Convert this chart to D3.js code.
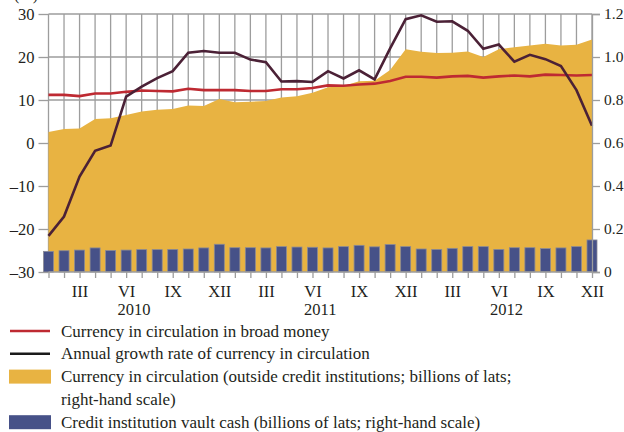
<!DOCTYPE html>
<html>
<head>
<meta charset="utf-8">
<script src="https://cdn.jsdelivr.net/npm/d3@7"></script>
<style>
  body { margin: 0; background: #fff; }
  svg text { font-family: "Liberation Serif", "Times New Roman", serif; fill: #231f20; }
</style>
</head>
<body>
<div id="chart"></div>
<script>
// months I 2010 .. XII 2012
var months = ["I","II","III","IV","V","VI","VII","VIII","IX","X","XI","XII"];
var years = ["2010", "2011", "2012"];
var monthLabels = ["III", "VI", "IX", "XII"];

// currency in circulation in broad money (%)
var shareBroad = [11.2, 11.2, 10.9, 11.5, 11.5, 11.9, 12.2, 12.1, 12.0, 12.6, 12.3, 12.3,
                  12.3, 12.1, 12.1, 12.5, 12.5, 12.8, 13.4, 13.3, 13.6, 13.8, 14.4, 15.4,
                  15.4, 15.2, 15.5, 15.6, 15.2, 15.5, 15.7, 15.5, 15.9, 15.8, 15.7, 15.8];

// annual growth rate of currency in circulation (%)
var growth = [-21.6, -17.1, -7.8, -1.8, -0.6, 10.8, 13.1, 15.1, 16.7, 21.0, 21.4, 21.0,
              21.0, 19.4, 18.8, 14.3, 14.4, 14.2, 16.7, 15.0, 16.9, 14.8, 22.0, 28.8,
              29.7, 28.2, 28.3, 26.1, 21.9, 22.9, 18.9, 20.5, 19.5, 17.9, 12.3, 4.0];

// currency in circulation outside credit institutions (billions of lats)
var currency = [0.651, 0.665, 0.668, 0.712, 0.715, 0.730, 0.746, 0.755, 0.758, 0.774, 0.772, 0.805,
                0.789, 0.792, 0.795, 0.812, 0.817, 0.834, 0.859, 0.865, 0.887, 0.890, 0.940, 1.036,
                1.025, 1.019, 1.020, 1.026, 1.000, 1.036, 1.045, 1.053, 1.062, 1.053, 1.057, 1.081];

// credit institution vault cash (billions of lats)
var vaultCash = [0.096, 0.099, 0.102, 0.112, 0.100, 0.102, 0.104, 0.104, 0.105, 0.107, 0.112, 0.129,
                 0.113, 0.113, 0.112, 0.118, 0.116, 0.115, 0.112, 0.118, 0.124, 0.117, 0.128, 0.118,
                 0.107, 0.105, 0.110, 0.118, 0.118, 0.105, 0.113, 0.113, 0.109, 0.112, 0.118, 0.149];

var legendItems = [
  {type: "line", color: "#be2a32", text: ["Currency in circulation in broad money"]},
  {type: "line", color: "#1a1a1a", text: ["Annual growth rate of currency in circulation"]},
  {type: "rect", color: "#e8b342", text: ["Currency in circulation (outside credit institutions; billions of lats;", "right-hand scale)"]},
  {type: "rect", color: "#465188", text: ["Credit institution vault cash (billions of lats; right-hand scale)"]}
];

var data = currency.map(function (d, i) {
  return {i: i, month: months[i % 12], year: years[Math.floor(i / 12)],
          share: shareBroad[i], growth: growth[i], currency: d, vault: vaultCash[i]};
});

var width = 624, height = 432;
var plotLeft = 48.5, plotRight = 592, plotTop = 14, plotBottom = 272;

var svg = d3.select("#chart")
  .append("svg")
    .attr("width", width)
    .attr("height", height);

var x = d3.scaleLinear()
  .domain([0, data.length - 1])
  .range([plotLeft, plotRight]);

var yL = d3.scaleLinear()
  .domain([-30, 30])
  .range([plotBottom, plotTop]);

var yR = d3.scaleLinear()
  .domain([0, 1.2])
  .range([plotBottom, plotTop]);

// grid
var grid = svg.append("g").attr("stroke", "#9d9d9d").attr("stroke-width", 1.3);
grid.selectAll("line.v")
  .data(data)
  .enter().append("line")
    .attr("x1", function (d) { return x(d.i); })
    .attr("x2", function (d) { return x(d.i); })
    .attr("y1", plotTop)
    .attr("y2", plotBottom);
grid.selectAll("line.h")
  .data(d3.range(-20, 31, 10))
  .enter().append("line")
    .attr("x1", plotLeft)
    .attr("x2", plotRight)
    .attr("y1", function (d) { return yL(d); })
    .attr("y2", function (d) { return yL(d); });

// yellow area
svg.append("path")
  .datum(data)
  .attr("fill", "#e8b342")
  .attr("d", d3.area()
    .x(function (d) { return x(d.i); })
    .y0(yR(0))
    .y1(function (d) { return yR(d.currency); }));

// vault cash bars
svg.append("g")
  .selectAll("rect")
  .data(data)
  .enter().append("rect")
    .attr("x", function (d) { return x(d.i) - 5; })
    .attr("width", 10)
    .attr("y", function (d) { return yR(d.vault); })
    .attr("height", function (d) { return yR(0) - yR(d.vault); })
    .attr("fill", "#465188")
    .attr("stroke", "#8a8a96")
    .attr("stroke-width", 0.8);

// lines
svg.append("path")
  .datum(data)
  .attr("fill", "none")
  .attr("stroke", "#be2a32")
  .attr("stroke-width", 2.6)
  .attr("d", d3.line()
    .x(function (d) { return x(d.i); })
    .y(function (d) { return yL(d.share); }));

svg.append("path")
  .datum(data)
  .attr("fill", "none")
  .attr("stroke", "#4b2136")
  .attr("stroke-width", 2.6)
  .attr("d", d3.line()
    .x(function (d) { return x(d.i); })
    .y(function (d) { return yL(d.growth); }));

// axes
var axisL = svg.append("g")
  .attr("transform", "translate(" + plotLeft + ",0)")
  .call(d3.axisLeft(yL).tickValues(d3.range(-30, 31, 10)).tickSize(10).tickPadding(4)
    .tickFormat(function (d) { return d < 0 ? "\u2013" + (-d) : d; }));

var axisR = svg.append("g")
  .attr("transform", "translate(" + plotRight + ",0)")
  .call(d3.axisRight(yR).tickValues([0, 0.2, 0.4, 0.6, 0.8, 1.0, 1.2]).tickSize(8).tickPadding(4)
    .tickFormat(function (d) { return d === 0 ? "0" : d.toFixed(1); }));

var axisB = svg.append("g")
  .attr("transform", "translate(0," + plotBottom + ")")
  .call(d3.axisBottom(x).tickValues(d3.range(data.length)).tickSize(6).tickPadding(7)
    .tickFormat(function (i) { var m = months[i % 12]; return monthLabels.indexOf(m) >= 0 ? m : ""; }));

[axisL, axisR, axisB].forEach(function (a) {
  a.select(".domain").attr("stroke", "#9d9d9d").attr("stroke-width", 1.3);
  a.selectAll(".tick line").attr("stroke", "#9d9d9d").attr("stroke-width", 1.3);
  a.selectAll("text").style("font-size", "16.5px").attr("fill", "#231f20");
});
axisR.selectAll("text").style("font-size", "15.5px");
axisL.select(".domain").remove();
axisB.select(".domain").attr("d", "M" + plotLeft + ",0H" + plotRight);

// year labels, centred between VI and VII
svg.append("g")
  .selectAll("text")
  .data(years)
  .enter().append("text")
    .attr("x", function (d, k) { return (x(k * 12 + 5) + x(k * 12 + 6)) / 2; })
    .attr("y", 315)
    .attr("text-anchor", "middle")
    .style("font-size", "16.5px")
    .text(function (d) { return d; });

// unit label, mostly cut off at the top as in the original
svg.append("text")
  .attr("x", 14)
  .attr("y", -0.5)
  .style("font-size", "16px")
  .text("(%)");

// legend
var lg = svg.append("g");
var rowY = 331;
legendItems.forEach(function (item) {
  if (item.type === "line") {
    lg.append("line")
      .attr("x1", 10).attr("x2", 50)
      .attr("y1", rowY).attr("y2", rowY)
      .attr("stroke", item.color).attr("stroke-width", 2.6);
  } else {
    lg.append("rect")
      .attr("x", 9).attr("y", rowY - 7)
      .attr("width", 42).attr("height", 14)
      .attr("fill", item.color);
  }
  item.text.forEach(function (t) {
    lg.append("text")
      .attr("x", 61)
      .attr("y", rowY + 5.5)
      .style("font-size", "17px")
      .text(t);
    rowY += 22.8;
  });
});
</script>
</body>
</html>
